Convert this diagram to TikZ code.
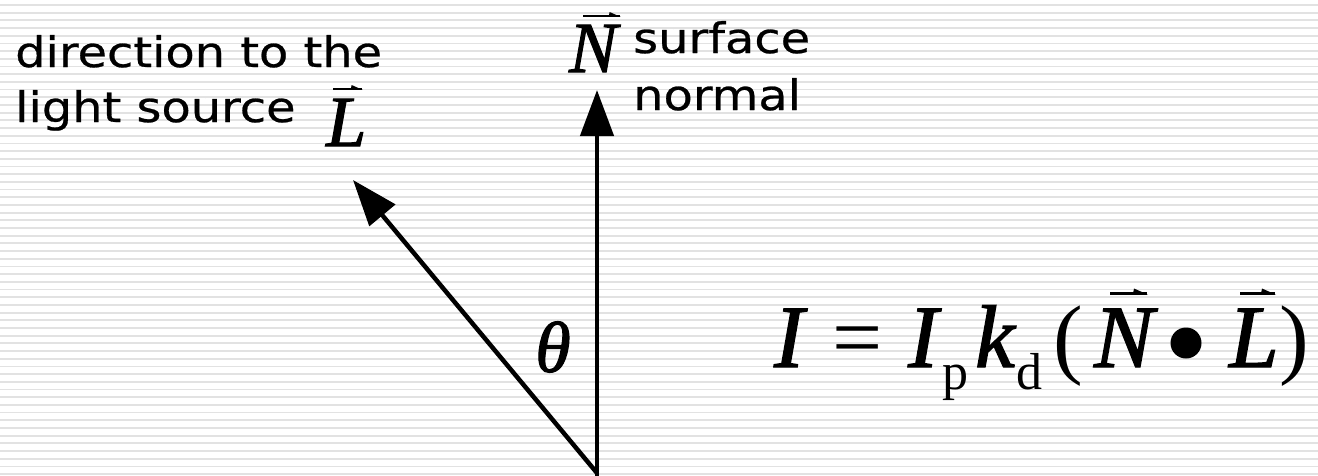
\documentclass[tikz,border=0pt]{standalone}
\usepackage{fontspec}
\usetikzlibrary{arrows.meta}
\newfontfamily\labelfont[FakeStretch=1.14,FakeBold=0.6]{DejaVu Sans}
\newfontfamily\tms{Liberation Serif}
\newfontfamily\tmsit[FakeBold=1.6]{Liberation Serif Italic}
\definecolor{stripe}{RGB}{226,226,226}
% vector mark: x start, x end, y of line, scale
\newcommand\vecmark[4]{%
  \fill ({#1},{#3-1.6*#4}) rectangle ({#2},{#3+1.6*#4});
  \fill ({#2-14*#4},{#3}) -- ({#2-13*#4},{#3-5*#4}) -- ({#2+1*#4},{#3+1.2*#4}) -- ({#2-14*#4},{#3+1.2*#4}) -- cycle;}
\begin{document}
\begin{tikzpicture}[x=1pt,y=-1pt,
  lbl/.style={anchor=base west, inner sep=0pt, font=\labelfont\fontsize{42}{44}\selectfont},
  sym/.style={anchor=base west, inner sep=0pt, font=\tmsit\fontsize{72}{74}\selectfont},
  eq/.style={anchor=base west, inner sep=0pt, font=\tmsit\fontsize{89}{90}\selectfont},
  eqr/.style={anchor=base west, inner sep=0pt, font=\tms\fontsize{89}{90}\selectfont},
  sub/.style={anchor=base west, inner sep=0pt, font=\tms\fontsize{52}{54}\selectfont},
  vecline/.style={line width=4.5pt, -{Triangle[length=46pt,width=33pt]}}]
\useasboundingbox (0,0) rectangle (1318,475);
\fill[white] (0,0) rectangle (1318,475);
\foreach \k in {0,...,61} \fill[stripe] (0,{5+7.69*\k-0.9}) rectangle (1318,{5+7.69*\k+0.9});

\node[lbl] (dir1) at (15,67) {direction to the};
\node[lbl] (dir2) at (15,122) {light source};
\node[sym] (Lsym) at (326,146) {L};
\node[sym] (Nsym) at (569,72) {N};
\node[lbl] (surf1) at (633,53) {surface};
\node[lbl] (surf2) at (633,110) {normal};
\node[inner sep=0pt, font=\tmsit\fontsize{72}{74}\selectfont] (theta) at (553,347) {θ};

\vecmark{333}{362}{89}{0.8}
\vecmark{583}{620}{16}{0.8}

\node[eq] (I1) at (774,367) {I};
\node[eqr] (eqs) at (832,367) {=};
\node[eq] (I2) at (908,367) {I};
\node[sub] (p) at (942,389) {p};
\node[eq] (k) at (975,367) {k};
\node[sub] (d) at (1016,389) {d};
\node[eqr] (lp) at (1053,367) {(};
\node[eq] (N2) at (1094,367) {N};
\node[circle, fill, inner sep=0pt, minimum size=31pt] (dot) at (1186,343) {};
\node[eq] (L2) at (1229,367) {L};
\node[eqr] (rp) at (1279,367) {)};
\vecmark{1110}{1147}{293.5}{1}
\vecmark{1240}{1275}{293.5}{1}

\coordinate (O) at (597,473);
\coordinate (Obot) at (597,476);
\coordinate (Ntip) at (597,90);
\coordinate (Ltip) at (353,180);
\draw[vecline] (Obot) -- (Ntip);
\draw[vecline] (O) -- (Ltip);
\end{tikzpicture}
\end{document}
